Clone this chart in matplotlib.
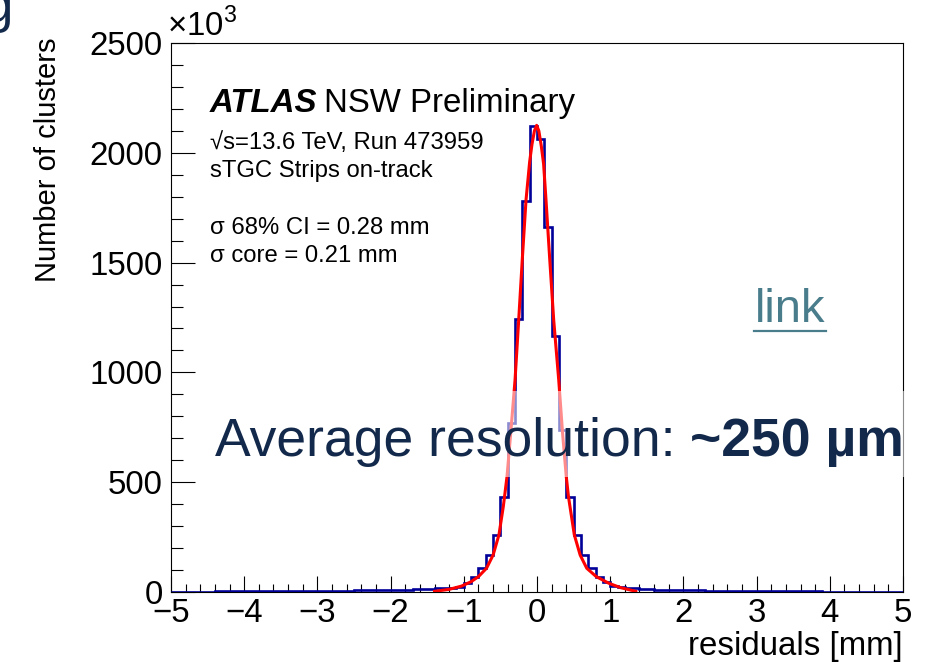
import numpy as np
import matplotlib
matplotlib.use("Agg")
import matplotlib.pyplot as plt
from matplotlib.patches import Rectangle
from matplotlib.ticker import MultipleLocator

plt.rcParams['font.family'] = ['Liberation Sans', 'DejaVu Sans']
plt.rcParams['mathtext.fontset'] = 'custom'
plt.rcParams['mathtext.rm'] = 'Liberation Sans'

# residuals histogram: 0.1 mm bins from -5 to 5 mm, counts in units of 10^3
bin_lo, bin_hi, bin_w = -5.0, 5.0, 0.1
counts = [2, 2, 2, 2, 2, 2, 3, 3, 3, 3,
          3, 3, 3, 4, 4, 4, 4, 4, 5, 5,
          5, 5, 6, 6, 6, 7, 7, 8, 8, 9,
          9, 10, 11, 12, 13, 15, 16, 18, 20, 24,
          40, 70, 108, 168, 260, 434, 768, 1242, 1782, 2122,
          2061, 1663, 1167, 738, 434, 260, 168, 108, 70, 47,
          28, 22, 18, 16, 14, 12, 11, 10, 9, 8,
          8, 7, 7, 6, 6, 5, 5, 5, 4, 4,
          4, 4, 4, 3, 3, 3, 3, 3, 3, 2,
          2, 2, 2, 2, 2, 2, 2, 2, 2, 2]

# fit curve, points
fit_x = [-1.40, -1.20, -1.03, -0.90, -0.80, -0.69, -0.60, -0.52, -0.46, -0.41,
         -0.36, -0.30, -0.25, -0.20, -0.15, -0.10, -0.068, -0.035, -0.005, 0.025,
         0.059, 0.09, 0.123, 0.175, 0.228, 0.297, 0.35, 0.40, 0.43, 0.51,
         0.59, 0.68, 0.81, 0.98, 1.14, 1.35]
fit_y = [3, 12, 27, 47, 70, 108, 168, 260, 390, 525,
         720, 965, 1239, 1520, 1785, 1960, 2040, 2100, 2125, 2100,
         2030, 1950, 1785, 1510, 1239, 965, 720, 525, 434, 260,
         168, 108, 70, 40, 20, 3]

W, H = 925, 662
fig = plt.figure(figsize=(W / 100, H / 100), dpi=100)
ax = fig.add_axes([171 / W, 70 / H, 732 / W, 549 / H])

edges = np.linspace(bin_lo, bin_hi, len(counts) + 1)
ax.stairs(counts, edges, color='#000099', lw=1.9, zorder=3)
ax.plot(fit_x, fit_y, color='#ff0000', lw=2.2, zorder=4)

ax.set_xlim(-5, 5)
ax.set_ylim(0, 2500)
ax.xaxis.set_major_locator(MultipleLocator(1))
ax.xaxis.set_minor_locator(MultipleLocator(0.2))
ax.yaxis.set_major_locator(MultipleLocator(500))
ax.yaxis.set_minor_locator(MultipleLocator(100))
ax.tick_params(which='both', direction='in', top=False, right=False,
               labelsize=23.8, width=0.8)
ax.tick_params(axis='x', which='major', length=11.3, pad=4)
ax.tick_params(axis='x', which='minor', length=5.8)
ax.tick_params(axis='y', which='major', length=17, pad=6)
ax.tick_params(axis='y', which='minor', length=8.6)
for s in ax.spines.values():
    s.set_linewidth(0.8)

ax.set_xlabel('residuals [mm]', fontsize=23.8, loc='right', labelpad=2)
ax.set_ylabel('Number of clusters', fontsize=21, loc='top')
ax.yaxis.set_label_coords(-0.149, 1.01)
ax.text(-0.005, 1.0, '×10$^{3}$', transform=ax.transAxes, fontsize=23.8,
        ha='left', va='bottom')

# ATLAS label block
fig.text(210 / W, 1 - 112 / H, 'ATLAS', fontsize=23.8, fontweight='bold',
         fontstyle='italic')
fig.text(324 / W, 1 - 112 / H, 'NSW Preliminary', fontsize=23.8)
fig.text(210 / W, 1 - 149 / H, '√s=13.6 TeV, Run 473959', fontsize=17.2)
fig.text(210 / W, 1 - 177 / H, 'sTGC Strips on-track', fontsize=17.2)
fig.text(210 / W, 1 - 234 / H, 'σ 68% CI = 0.28 mm', fontsize=17.2)
fig.text(210 / W, 1 - 262 / H, 'σ core = 0.21 mm', fontsize=17.2)

# slide overlay
box = Rectangle((205 / W, (H - 477) / H), 1.0, 86 / H, transform=fig.transFigure,
                facecolor='white', edgecolor='none', alpha=0.55, zorder=5)
fig.add_artist(box)
navy = '#13294b'
t1 = fig.text(215 / W, 1 - 456 / H, 'Average resolution: ', fontsize=38.5,
              color=navy, zorder=6)
fig.canvas.draw()
bb = t1.get_window_extent()
fig.text(bb.x1 / W, 1 - 456 / H, '~250 µm', fontsize=38.5, fontweight='bold',
         color=navy, zorder=6)

fig.text(755 / W, 1 - 322 / H, 'link', fontsize=34, color='#4a7d8c')
fig.add_artist(plt.Line2D([754 / W, 826 / W], [1 - 331 / H, 1 - 331 / H],
                          transform=fig.transFigure, color='#4a7d8c', lw=1.6))

fig.text(13 / W, 1 - 22 / H, 'g', fontsize=38, color=navy, ha='right')

fig.savefig('out.png', dpi=100)
